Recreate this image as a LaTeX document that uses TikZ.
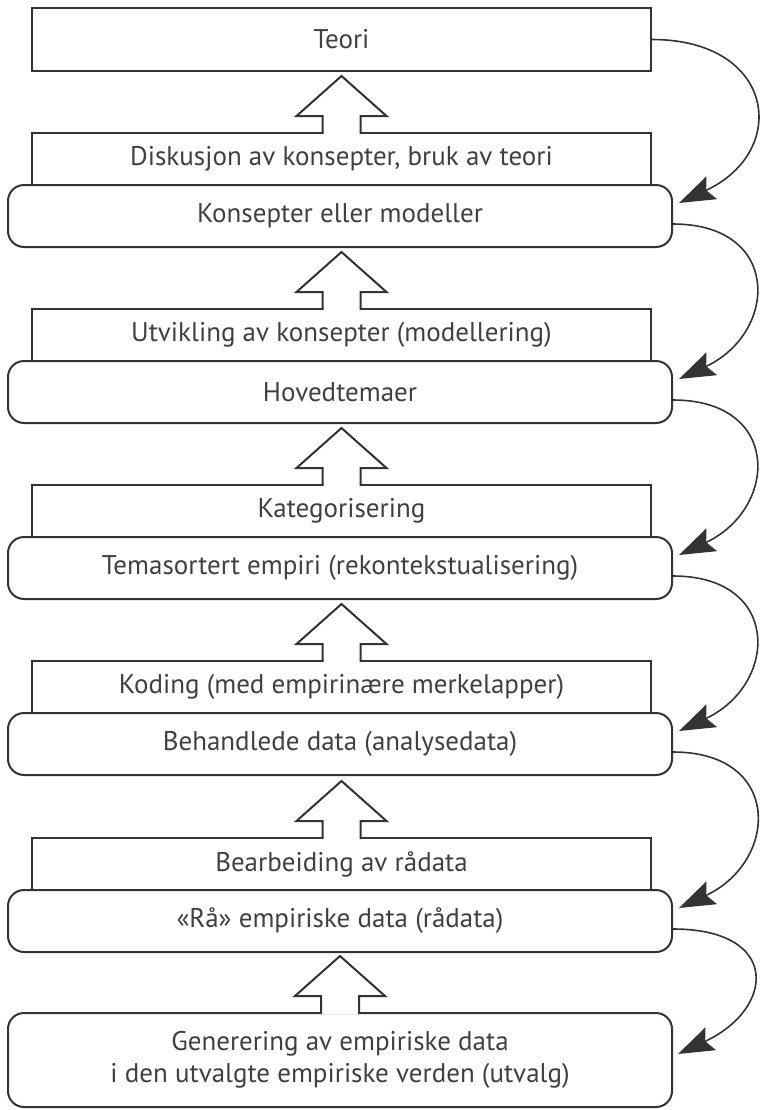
\documentclass[tikz,border=0pt]{standalone}
\usepackage{fontspec}
\usepackage{tikz}
\setmainfont{PT Sans}
\usetikzlibrary{arrows.meta}
\usetikzlibrary{positioning}
\tikzset{
  stage/.style = {draw = black!80, line width = 1pt, fill = white, inner sep = 0,
                  text = black!75, font = \fontsize{13.5}{16}\selectfont},
  workbox/.style = {stage, minimum width = 309.5pt, minimum height = 26pt},
  resultbox/.style = {stage, rounded corners = 8pt, minimum width = 332pt,
                      minimum height = 31pt, align = center},
  blockarrow/.style = {draw = black!80, line width = 1pt, fill = white},
  loop/.style = {draw = black!80, line width = 0.8pt,
                 -{Stealth[length = 18pt, width = 12.5pt, inset = 3pt]}}
}

\begin{document}
\begin{tikzpicture}[x = 0.5pt, y = 0.5pt]
      \useasboundingbox (0, 0) rectangle (760, -1110);
      \node [stage, minimum width = 309.5pt, minimum height = 31.5pt] (teori) at (341.5, -39.5) {Teori};
      \foreach \i/\r/\work/\result in {
          1/185/{Diskusjon av konsepter, bruk av teori}/{Konsepter eller modeller},
          2/361/{Utvikling av konsepter (modellering)}/{Hovedtemaer},
          3/537/{Kategorisering}/{Temasortert empiri (rekontekstualisering)},
          4/713/{Koding (med empirinære merkelapper)}/{Behandlede data (analysedata)},
          5/890/{Bearbeiding av rådata}/{«Rå» empiriske data (rådata)}} {
        \node [workbox] (p\i) at (341.5, -\r + 26) {\work};
        \node [resultbox] (s\i) at (340, -\r - 31) {\result};
      }
      \node [resultbox, minimum height = 47pt] (gen) at (340, -1060)
        {Generering av empiriske data\\i den utvalgte empiriske verden (utvalg)};
      \foreach \n in {p1, p2, p3, p4, p5, gen} {
        \draw [blockarrow] ([xshift = -9.5pt, yshift = -1pt]\n.north) -- ++(0, 18) -- ++(-26, 0)
          -- ++(45, 40) -- ++(45, -40) -- ++(-26, 0) -- ++(0, -18);
      }
      \draw [loop] (teori.east) to [out = 0, in = 25, looseness = 1.9] ([xshift = 3pt, yshift = 6.5pt]s1.east);
      \foreach \a/\b in {s1/s2, s2/s3, s3/s4, s4/s5} {
        \draw [loop] ([yshift = -4pt]\a.east) to [out = 0, in = 25, looseness = 1.8] ([xshift = 3pt, yshift = 6.5pt]\b.east);
      }
      \draw [loop] ([yshift = -4pt]s5.east) to [out = 0, in = 25, looseness = 2.2] ([xshift = 2.5pt, yshift = 3pt]gen.east);
    \end{tikzpicture}
\end{document}
